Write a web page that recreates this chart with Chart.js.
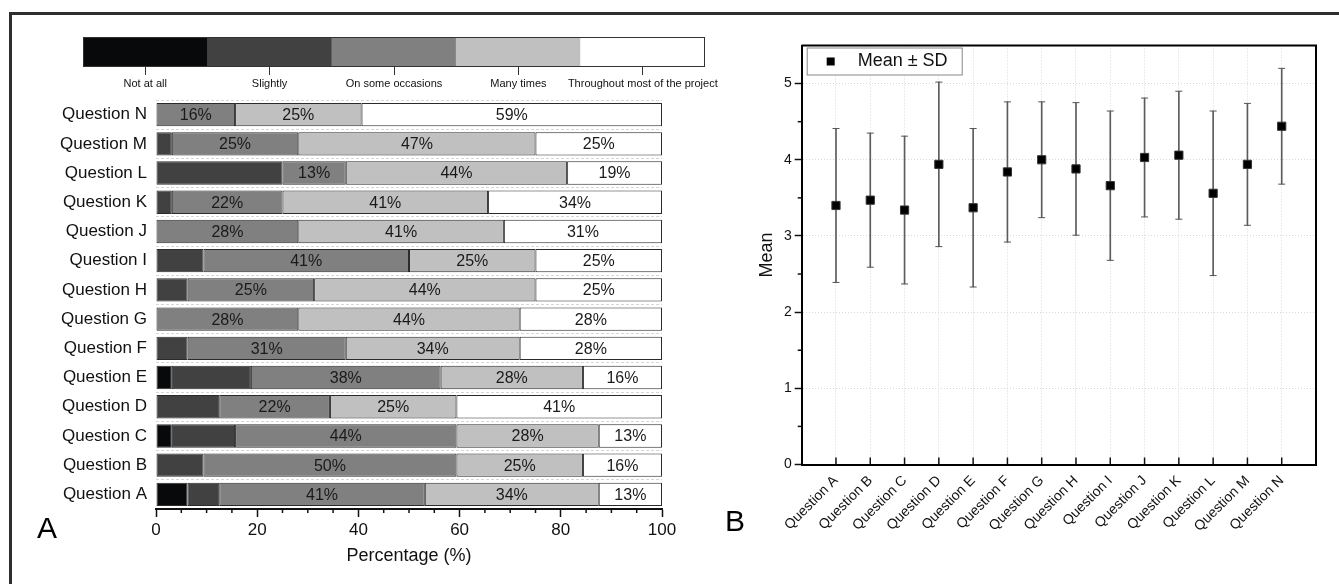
<!DOCTYPE html>
<html>
<head>
<meta charset="utf-8">
<script src="https://cdn.jsdelivr.net/npm/chart.js@4.4.0/dist/chart.umd.min.js"></script>
<style>
body{margin:0;background:#fff;width:1339px;height:584px;overflow:hidden;position:relative;font-family:"Liberation Sans",Arial,sans-serif}
canvas{position:absolute}
#frame{position:absolute;left:9px;top:12px;width:1340px;height:600px;border-top:3px solid #2e2e2e;border-left:3px solid #2e2e2e}
.panel{position:absolute;font-size:30px;line-height:30px;color:#000}
</style>
</head>
<body>
<div id="frame"></div>
<canvas id="barChart" width="720" height="584" style="left:0;top:0"></canvas>
<canvas id="keyChart" width="740" height="100" style="left:0;top:0"></canvas>
<canvas id="meanChart" width="599" height="554" style="left:740px;top:30px"></canvas>
<div class="panel" style="left:37px;top:513px">A</div>
<div class="panel" style="left:725px;top:506px">B</div>
<script>
var questions = ["Question A", "Question B", "Question C", "Question D", "Question E", "Question F", "Question G",
	"Question H", "Question I", "Question J", "Question K", "Question L", "Question M", "Question N"];
var levels = ["Not at all", "Slightly", "On some occasions", "Many times", "Throughout most of the project"];
var levelColors = ["#08090b", "#414141", "#808080", "#c0c0c0", "#ffffff"];

// % of answers per question (A..N)
var notAtAll   = [6.25, 0, 3.125, 0, 3.125, 0, 0, 0, 0, 0, 0, 0, 0, 0];
var slightly   = [6.25, 9.375, 12.5, 12.5, 15.625, 6.25, 0, 6.25, 9.375, 0, 3.125, 25, 3.125, 0];
var someOcc    = [40.625, 50, 43.75, 21.875, 37.5, 31.25, 28.125, 25, 40.625, 28.125, 21.875, 12.5, 25, 15.625];
var manyTimes  = [34.375, 25, 28.125, 25, 28.125, 34.375, 43.75, 43.75, 25, 40.625, 40.625, 43.75, 46.875, 25];
var throughout = [12.5, 15.625, 12.5, 40.625, 15.625, 28.125, 28.125, 25, 25, 31.25, 34.375, 18.75, 25, 59.375];

// mean and SD per question (A..N)
var means = [3.40, 3.47, 3.34, 3.94, 3.37, 3.84, 4.00, 3.88, 3.66, 4.03, 4.06, 3.56, 3.94, 4.44];
var sds   = [1.01, 0.88, 0.97, 1.08, 1.04, 0.92, 0.76, 0.87, 0.98, 0.78, 0.84, 1.08, 0.80, 0.76];

var xTicksA = [0, 20, 40, 60, 80, 100];

var FONT = '"Liberation Sans", Arial, sans-serif';
Chart.defaults.font.family = FONT;
Chart.defaults.color = "#111";

// percent labels inside bars (not for the two darkest levels)
var pctLabels = {
	id: "pctLabels",
	afterDatasetsDraw: function (chart) {
		var ctx = chart.ctx;
		ctx.save();
		ctx.font = "16px " + FONT;
		ctx.fillStyle = "#1a1a1a";
		ctx.textAlign = "center";
		ctx.textBaseline = "middle";
		chart.data.datasets.forEach(function (ds, k) {
			if (k < 2) return;
			chart.getDatasetMeta(k).data.forEach(function (el, i) {
				var v = ds.data[i];
				if (!v) return;
				var p = el.getProps(["x", "y", "base"], true);
				ctx.fillText(Math.round(v) + "%", (p.x + p.base) / 2, p.y + 1);
			});
		});
		ctx.restore();
	}
};

// minor ticks on the bottom axis of chart A
var minorTicksA = {
	id: "minorTicksA",
	afterDraw: function (chart) {
		var s = chart.scales.x, ctx = chart.ctx;
		ctx.save();
		ctx.strokeStyle = "#111";
		ctx.lineWidth = 1.5;
		for (var v = 5; v < 100; v += 5) {
			if (v % 20 === 0) continue;
			var px = s.getPixelForValue(v);
			ctx.beginPath();
			ctx.moveTo(px, s.top);
			ctx.lineTo(px, s.top + 4);
			ctx.stroke();
		}
		ctx.restore();
	}
};

var levelData = [notAtAll, slightly, someOcc, manyTimes, throughout];

new Chart(document.getElementById("barChart"), {
	type: "bar",
	data: {
		labels: questions,
		datasets: levelData.map(function (d, k) {
			return {
				label: levels[k],
				data: d,
				backgroundColor: levelColors[k],
				borderColor: "#2b2b2b",
				borderWidth: 1,
				borderSkipped: false,
				barPercentage: 0.8,
				categoryPercentage: 1
			};
		})
	},
	options: {
		indexAxis: "y",
		responsive: false,
		animation: false,
		layout: { padding: { left: 0, top: 100, right: 58, bottom: 13 } },
		plugins: { legend: { display: false }, tooltip: { enabled: false } },
		scales: {
			x: {
				stacked: true,
				min: 0,
				max: 100,
				afterBuildTicks: function (s) {
					s.ticks = xTicksA.map(function (v) { return { value: v }; });
				},
				ticks: { font: { size: 17 }, color: "#111", padding: 3 },
				grid: { drawOnChartArea: false, tickLength: 8, tickColor: "#111", tickWidth: 1.5 },
				border: { color: "#111", width: 2 },
				title: { display: true, text: "Percentage (%)", font: { size: 18 }, color: "#111" },
				afterFit: function (s) { s.height = 62; }
			},
			y: {
				stacked: true,
				reverse: true,
				ticks: { font: { size: 17 }, color: "#111", padding: 9 },
				grid: { offset: true, drawTicks: false, color: "#d6d6d6" },
				border: { display: false, dash: [3, 2] },
				afterFit: function (s) { s.width = 156; }
			}
		}
	},
	plugins: [pctLabels, minorTicksA]
});

// colour key above chart A
var keyOutline = {
	id: "keyOutline",
	afterDatasetsDraw: function (chart) {
		var a = chart.chartArea, ctx = chart.ctx;
		ctx.save();
		ctx.strokeStyle = "#333";
		ctx.lineWidth = 1;
		ctx.strokeRect(a.left + 0.5, a.top + 0.5, a.right - a.left - 1, a.bottom - a.top - 1);
		ctx.restore();
	}
};

new Chart(document.getElementById("keyChart"), {
	type: "bar",
	data: {
		labels: levels,
		datasets: [{
			data: levels.map(function () { return 1; }),
			backgroundColor: levelColors,
			borderWidth: 0,
			barPercentage: 1,
			categoryPercentage: 1
		}]
	},
	options: {
		responsive: false,
		animation: false,
		layout: { padding: { left: 83, right: 35, top: 37, bottom: 0 } },
		plugins: { legend: { display: false }, tooltip: { enabled: false } },
		scales: {
			x: {
				ticks: { font: { size: 11 }, color: "#111", padding: 2, maxRotation: 0, autoSkip: false },
				grid: { drawOnChartArea: false, offset: false, tickLength: 8, tickColor: "#333" },
				border: { display: false },
				afterFit: function (s) { s.height = 33; }
			},
			y: { display: false, min: 0, max: 1 }
		}
	},
	plugins: [keyOutline]
});

// chart B extras: frame, inward x ticks, minor y ticks, legend box
var meanExtras = {
	id: "meanExtras",
	afterDraw: function (chart) {
		var a = chart.chartArea, ctx = chart.ctx, x = chart.scales.x, y = chart.scales.y;
		ctx.save();
		ctx.strokeStyle = "#000";
		ctx.lineWidth = 2;
		ctx.beginPath();
		ctx.moveTo(a.left, a.top);
		ctx.lineTo(a.right, a.top);
		ctx.lineTo(a.right, a.bottom);
		ctx.stroke();

		ctx.strokeStyle = "#111";
		ctx.lineWidth = 1.5;
		for (var i = 1; i <= questions.length; i++) {
			var px = x.getPixelForValue(i);
			ctx.beginPath();
			ctx.moveTo(px, a.bottom);
			ctx.lineTo(px, a.bottom - 7);
			ctx.stroke();
		}
		for (var v = 0.5; v < 5.5; v += 1) {
			var py = y.getPixelForValue(v);
			ctx.beginPath();
			ctx.moveTo(a.left, py);
			ctx.lineTo(a.left - 4, py);
			ctx.stroke();
		}

		// legend
		var lx = a.left + 5, ly = a.top + 2;
		ctx.fillStyle = "#fff";
		ctx.fillRect(lx, ly, 155, 27);
		ctx.strokeStyle = "#888";
		ctx.lineWidth = 1;
		ctx.strokeRect(lx + 0.5, ly + 0.5, 155, 27);
		ctx.fillStyle = "#000";
		ctx.fillRect(lx + 20, ly + 10, 8, 8);
		ctx.font = "18px " + FONT;
		ctx.textBaseline = "middle";
		ctx.fillStyle = "#111";
		ctx.fillText(chart.data.datasets[0].label, lx + 51, ly + 14);
		ctx.restore();
	}
};

var meanData = means.map(function (m, i) { return { x: i + 1, y: m }; });
var errData = means.map(function (m, i) { return { x: i + 1, y: [m - sds[i], m + sds[i]] }; });
var capData = [];
means.forEach(function (m, i) {
	capData.push({ x: i + 1, y: m - sds[i] });
	capData.push({ x: i + 1, y: m + sds[i] });
});

new Chart(document.getElementById("meanChart"), {
	type: "scatter",
	data: {
		datasets: [
			{
				label: "Mean \u00b1 SD",
				data: meanData,
				pointStyle: "rect",
				pointRadius: 5.8,
				pointBackgroundColor: "#000",
				pointBorderColor: "#333",
				pointBorderWidth: 1
			},
			{
				label: "SD caps",
				data: capData,
				pointStyle: "line",
				pointRadius: 3.5,
				pointBorderColor: "#555",
				pointBorderWidth: 1
			},
			{
				type: "bar",
				label: "SD",
				data: errData,
				backgroundColor: "#5c5c5c",
				barThickness: 1,
				borderWidth: 0
			}
		]
	},
	options: {
		responsive: false,
		animation: false,
		layout: { padding: { left: 12, top: 15.5, right: 23, bottom: 0 } },
		plugins: { legend: { display: false }, tooltip: { enabled: false } },
		scales: {
			x: {
				type: "linear",
				min: 0,
				max: questions.length + 1,
				offset: false,
				ticks: {
					stepSize: 1,
					autoSkip: false,
					minRotation: 45,
					maxRotation: 45,
					font: { size: 14 },
					color: "#111",
					padding: 8,
					callback: function (v) { return questions[v - 1] || ""; }
				},
				grid: { color: "#d9d9d9", drawTicks: false, offset: false },
				border: { color: "#000", width: 2, dash: [1, 2] },
				afterFit: function (s) { s.height = 119.5; }
			},
			y: {
				min: 0,
				max: 5.5,
				ticks: {
					stepSize: 0.5,
					font: { size: 14 },
					color: "#111",
					padding: 3,
					callback: function (v) { return v % 1 === 0 ? v : ""; }
				},
				grid: {
					color: function (c) { return c.tick && c.tick.value % 1 === 0 && c.tick.value > 0 ? "#d9d9d9" : "transparent"; },
					tickLength: 7,
					tickWidth: 1.5,
					tickColor: function (c) { return c.tick && c.tick.value % 1 === 0 ? "#111" : "transparent"; }
				},
				border: { color: "#000", width: 2, dash: [1, 2] },
				title: { display: true, text: "Mean", font: { size: 18 }, color: "#111" },
				afterFit: function (s) { s.width = 49.7; }
			}
		}
	},
	plugins: [meanExtras]
});
</script>
</body>
</html>
